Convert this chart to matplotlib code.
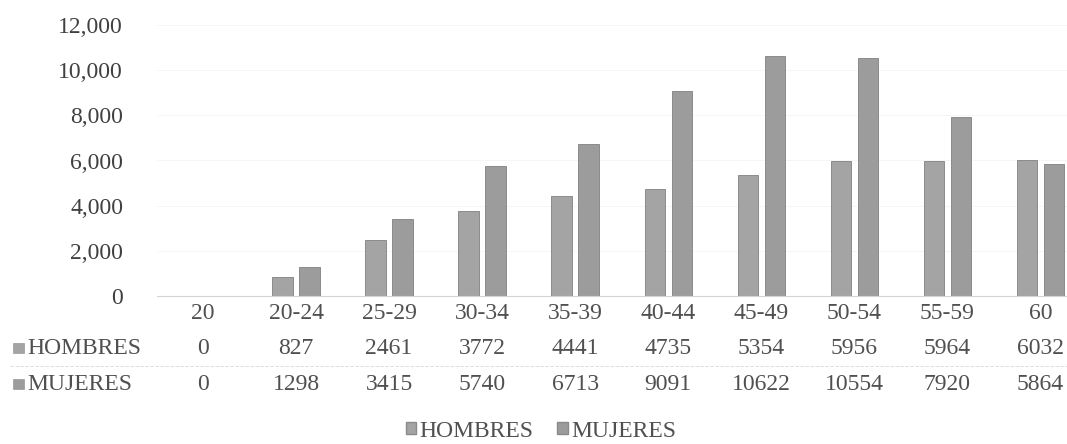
import matplotlib.pyplot as plt
from matplotlib.patches import Patch, Rectangle
from matplotlib.transforms import blended_transform_factory
import numpy as np

# datos por grupo de edad
categorias = ["20", "20-24", "25-29", "30-34", "35-39", "40-44", "45-49", "50-54", "55-59", "60"]
hombres = [0, 827, 2461, 3772, 4441, 4735, 5354, 5956, 5964, 6032]
mujeres = [0, 1298, 3415, 5740, 6713, 9091, 10622, 10554, 7920, 5864]
y_ticks = [0, 2000, 4000, 6000, 8000, 10000, 12000]

plt.rcParams['font.family'] = ['Liberation Serif', 'DejaVu Serif']
texto = '#505050'
gris_h = '#a4a4a4'
gris_m = '#9c9c9c'
W, H = 1067, 444
fs = 17

fig = plt.figure(figsize=(W/100, H/100), dpi=100)
# el eje se sale un poco por la derecha, como en la imagen original
ax = fig.add_axes([156.5/W, (H-296)/H, (1087-156.5)/W, (296-25)/H])

x = np.arange(len(categorias))
w = 0.22
ax.bar(x - 0.145, hombres, w, color=gris_h, edgecolor='#808080', linewidth=0.6)
ax.bar(x + 0.145, mujeres, w, color=gris_m, edgecolor='#808080', linewidth=0.6)

ax.set_xlim(-0.5, len(categorias) - 0.5)
ax.set_ylim(0, 12000)
ax.set_yticks(y_ticks)
ax.set_yticklabels([f"{v:,}" for v in y_ticks], fontsize=fs, color='#404040')
ax.tick_params(axis='y', length=0, pad=24)
ax.set_xticks([])
ax.grid(axis='y', color='#f4f4f4', linewidth=0.6)
ax.set_axisbelow(True)
for s in ['top', 'right', 'left']:
    ax.spines[s].set_visible(False)
ax.spines['bottom'].set_color('#d4d4d4')
ax.spines['bottom'].set_linewidth(0.8)

# tabla de datos debajo del eje
trans = blended_transform_factory(ax.transData, fig.transFigure)
for i, c in enumerate(categorias):
    ax.text(i, (H-313)/H, c, transform=trans, ha='center', va='center', fontsize=fs, color=texto)
    ax.text(i, (H-348)/H, str(hombres[i]), transform=trans, ha='center', va='center', fontsize=fs, color=texto)
    ax.text(i, (H-384)/H, str(mujeres[i]), transform=trans, ha='center', va='center', fontsize=fs, color=texto)

filas = [("HOMBRES", 348, gris_h), ("MUJERES", 384, gris_m)]
for nombre, ypx, col in filas:
    fig.patches.append(Rectangle((13/W, (H - ypx - 5)/H), 11/W, 10/H,
                                 transform=fig.transFigure, facecolor=col, edgecolor='#8a8a8a', linewidth=0.4))
    fig.text(27/W, (H - ypx)/H, nombre, ha='left', va='center', fontsize=fs, color=texto)

fig.add_artist(plt.Line2D([10/W, 1.0], [(H-366)/H]*2, color='#d8d8d8', linewidth=0.6,
                          linestyle=(0, (4, 2))))

fig.legend(handles=[Patch(facecolor=gris_h, edgecolor='#8a8a8a', label='HOMBRES'),
                    Patch(facecolor=gris_m, edgecolor='#8a8a8a', label='MUJERES')],
           loc='center', bbox_to_anchor=(541/W, (H-431)/H), ncol=2, frameon=False,
           fontsize=fs, handlelength=0.45, handleheight=0.45, handletextpad=0.15,
           columnspacing=1.0, labelcolor=texto)

fig.savefig('out.png', dpi=100)
